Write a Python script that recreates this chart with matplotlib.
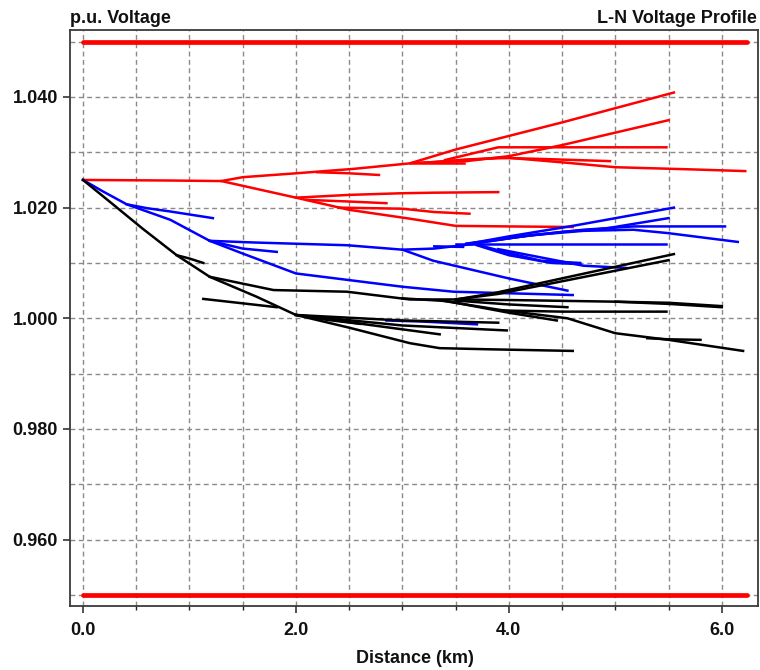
import matplotlib
matplotlib.use("Agg")
import matplotlib.pyplot as plt
from matplotlib.ticker import MultipleLocator, FixedLocator

plt.rcParams['font.family'] = ['Liberation Sans', 'DejaVu Sans']

# ---------------- data ----------------
title_left = "p.u. Voltage"
title_right = "L-N Voltage Profile"
x_label = "Distance (km)"

xtick_vals = [0.0, 2.0, 4.0, 6.0]
xtick_labels = ["0.0", "2.0", "4.0", "6.0"]
ytick_vals = [0.96, 0.98, 1.00, 1.02, 1.04]
ytick_labels = ["0.960", "0.980", "1.000", "1.020", "1.040"]

limit_dist = [0.0, 6.24]
limit_volts = [1.05, 0.95]

# Phase A (red) branches: distance (km) / voltage (p.u.)
red_dist = [
    [0.0, 0.8, 1.3, 1.5, 2.0, 2.54, 3.07, 3.5, 4.5, 5.55],
    [3.1, 3.6, 4.0, 4.5, 5.5],
    [3.4, 3.9, 5.48],
    [3.3, 3.9, 4.3, 4.95],
    [3.2, 3.6, 4.0, 4.55, 5.0, 5.73, 6.22],
    [3.07, 3.58],
    [2.2, 2.5, 2.78],
    [1.3, 2.0, 2.5, 3.07, 3.5, 4.0, 4.6],
    [2.0, 2.5, 3.0, 3.3, 3.9],
    [2.4, 3.0, 3.3, 3.63],
    [2.1, 2.5, 2.85],
]
red_volt = [
    [1.0250, 1.0249, 1.0248, 1.0255, 1.0262, 1.0270, 1.0280, 1.0305, 1.0354, 1.0408],
    [1.0281, 1.0284, 1.0293, 1.0313, 1.0358],
    [1.0286, 1.0309, 1.0309],
    [1.0282, 1.0290, 1.0288, 1.0284],
    [1.0281, 1.0287, 1.0290, 1.0281, 1.0273, 1.0269, 1.0266],
    [1.0280, 1.0280],
    [1.0264, 1.0262, 1.0259],
    [1.0248, 1.0218, 1.0196, 1.0180, 1.0167, 1.0166, 1.0165],
    [1.0218, 1.0223, 1.0226, 1.0227, 1.0228],
    [1.0200, 1.0198, 1.0192, 1.0189],
    [1.0214, 1.0211, 1.0208],
]

# Phase B (blue) branches
blue_dist = [
    [0.0, 0.19, 0.41, 0.82, 1.19, 1.5, 2.0, 2.5, 3.0, 3.48, 3.85, 4.6],
    [0.41, 0.6, 0.82, 1.22],
    [1.19, 1.6, 2.48, 3.0, 3.3, 3.7],
    [1.19, 1.5, 1.82],
    [3.0, 3.29, 4.0, 4.55],
    [3.6, 4.0, 4.6, 5.55],
    [3.6, 4.0, 4.5, 4.9, 5.5],
    [3.7, 4.2, 4.7, 5.17, 6.03],
    [3.7, 4.2, 4.7, 5.17, 5.49, 6.15],
    [3.5, 4.2, 5.48],
    [3.7, 4.0, 4.3, 4.67],
    [3.7, 4.0, 4.4, 4.67],
    [3.9, 4.3, 4.7, 5.1],
    [3.3, 3.57],
    [2.85, 3.2, 3.7],
]
blue_volt = [
    [1.0250, 1.0229, 1.0206, 1.0178, 1.0140, 1.0117, 1.0081, 1.0069, 1.0057, 1.0048, 1.0046, 1.0042],
    [1.0206, 1.0199, 1.0193, 1.0181],
    [1.0140, 1.0137, 1.0132, 1.0124, 1.0126, 1.0135],
    [1.0140, 1.0126, 1.0120],
    [1.0124, 1.0104, 1.0072, 1.0050],
    [1.0134, 1.0148, 1.0167, 1.0200],
    [1.0135, 1.0145, 1.0156, 1.0162, 1.0181],
    [1.0136, 1.0150, 1.0160, 1.0166, 1.0166],
    [1.0136, 1.0150, 1.0158, 1.0160, 1.0154, 1.0138],
    [1.0134, 1.0134, 1.0134],
    [1.0133, 1.0118, 1.0104, 1.0100],
    [1.0132, 1.0114, 1.0100, 1.0098],
    [1.0125, 1.0110, 1.0095, 1.0091],
    [1.0130, 1.0129],
    [0.9996, 0.9994, 0.9989],
]

# Phase C (black) branches
black_dist = [
    [0.0, 0.3, 0.56, 0.88, 1.19, 1.63, 2.0, 2.5, 3.07, 3.35, 3.8, 4.6],
    [0.88, 1.0, 1.13],
    [1.19, 1.79, 2.48, 3.07, 3.5, 4.0, 5.0, 5.5, 6.0],
    [5.0, 5.5, 6.0],
    [3.95, 4.5, 5.48],
    [2.0, 3.0, 3.9],
    [2.0, 3.0, 3.98],
    [2.0, 3.0, 3.35],
    [2.0, 2.3, 2.6],
    [1.13, 1.5, 1.82],
    [3.0, 3.42, 4.0, 4.45],
    [3.4, 3.92, 4.55, 5.0, 5.5, 6.2],
    [5.3, 5.5, 5.8],
    [3.5, 4.0, 4.55],
    [3.5, 3.85, 5.55],
    [3.5, 3.9, 5.5],
]
black_volt = [
    [1.0250, 1.0203, 1.0162, 1.0114, 1.0075, 1.0039, 1.0006, 0.9983, 0.9955, 0.9946, 0.9944, 0.9941],
    [1.0114, 1.0108, 1.0100],
    [1.0075, 1.0051, 1.0048, 1.0034, 1.0034, 1.0033, 1.0030, 1.0028, 1.0022],
    [1.0030, 1.0026, 1.0020],
    [1.0014, 1.0012, 1.0012],
    [1.0006, 0.9996, 0.9992],
    [1.0006, 0.9987, 0.9978],
    [1.0006, 0.9980, 0.9971],
    [1.0006, 0.9997, 0.9990],
    [1.0035, 1.0027, 1.0020],
    [1.0036, 1.0031, 1.0010, 0.9996],
    [1.0031, 1.0015, 1.0000, 0.9973, 0.9961, 0.9941],
    [0.9964, 0.9962, 0.9961],
    [1.0032, 1.0025, 1.0020],
    [1.0034, 1.0045, 1.0116],
    [1.0034, 1.0044, 1.0105],
]

# ---------------- figure ----------------
W, H = 760, 670
fig = plt.figure(figsize=(W / 100, H / 100), dpi=100)
ax = fig.add_axes([70 / W, 1 - 606 / H, (758 - 70) / W, (606 - 30) / H])

ax.set_xlim(-0.122, 6.34)
ax.set_ylim(0.9480, 1.0521)

lw = 1.8
for xs, vs in zip(red_dist, red_volt):
    ax.plot(xs, vs, color='#ff0000', lw=lw, solid_joinstyle='miter', zorder=3)
for xs, vs in zip(blue_dist, blue_volt):
    ax.plot(xs, vs, color='#0000ff', lw=lw, solid_joinstyle='miter', zorder=3)
for xs, vs in zip(black_dist, black_volt):
    ax.plot(xs, vs, color='#000000', lw=lw, solid_joinstyle='miter', zorder=3)

for v in limit_volts:
    ax.plot(limit_dist, [v, v], color='#ff0000', lw=3.4, solid_capstyle='round', zorder=4)

# ticks
ax.xaxis.set_major_locator(FixedLocator(xtick_vals))
ax.set_xticklabels(xtick_labels)
ax.xaxis.set_minor_locator(MultipleLocator(0.5))
ax.yaxis.set_major_locator(FixedLocator(ytick_vals))
ax.set_yticklabels(ytick_labels)
ax.yaxis.set_minor_locator(MultipleLocator(0.01))

ax.tick_params(axis='x', which='major', direction='out', length=5.2, width=1.1,
               color='#222222', pad=6.0)
ax.tick_params(axis='x', which='minor', direction='out', length=3.0, width=1.0,
               color='#222222')
ax.tick_params(axis='y', which='major', direction='out', length=5.2, width=1.1,
               color='#222222', pad=3.5)
ax.tick_params(axis='y', which='minor', length=0)
for lab in ax.get_xticklabels() + ax.get_yticklabels():
    lab.set_fontsize(13)
    lab.set_fontweight('bold')
    lab.set_color('#111111')

ax.grid(True, which='both', axis='both', color='#8a8a8a', lw=1.0,
        linestyle=(0, (3.5, 2.5)), zorder=1)
ax.set_axisbelow(True)

for s in ax.spines.values():
    s.set_color('#3a3a3a')
    s.set_linewidth(1.3)

fig.text(70 / W, 1 - 23 / H, title_left, ha='left', va='baseline',
         fontsize=13, fontweight='bold', color='#111111')
fig.text(757 / W, 1 - 23 / H, title_right, ha='right', va='baseline',
         fontsize=13, fontweight='bold', color='#111111')
fig.text(414.5 / W, 1 - 663 / H, x_label, ha='center', va='baseline',
         fontsize=13, fontweight='bold', color='#111111')

fig.savefig("out.png", dpi=100)
